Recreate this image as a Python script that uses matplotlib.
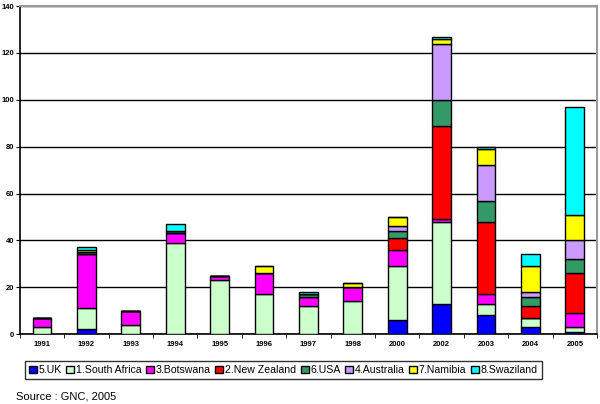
import numpy as np
import matplotlib.pyplot as plt

plt.rcParams['font.family'] = ['Liberation Sans', 'DejaVu Sans']

years = ['1991', '1992', '1993', '1994', '1995', '1996', '1997', '1998',
         '2000', '2002', '2003', '2004', '2005']

uk        = [0, 2, 0, 0, 0, 0, 0, 0, 6, 13, 8, 3, 1]
s_africa  = [3, 9, 4, 39, 23, 17, 12, 14, 23, 35, 5, 4, 2]
botswana  = [4, 23, 6, 4, 2, 9, 4, 6, 7, 1, 4, 0, 6]
n_zealand = [0, 0, 0, 0, 0, 0, 0, 0, 5, 40, 31, 5, 17]
usa       = [0, 1, 0, 1, 0, 0, 1, 0, 3, 11, 9, 4, 6]
australia = [0, 0, 0, 0, 0, 0, 0, 0, 2, 24, 15, 2, 8]
namibia   = [0, 1, 0, 0, 0, 3, 0, 2, 4, 2, 7, 11, 11]
swaziland = [0, 1, 0, 3, 0, 0, 1, 0, 0, 1, 1, 5, 46]

series = [uk, s_africa, botswana, n_zealand, usa, australia, namibia, swaziland]
labels = ['5.UK', '1.South Africa', '3.Botswana', '2.New Zealand', '6.USA',
          '4.Australia', '7.Namibia', '8.Swaziland']
colors = ['#0000FF', '#CCFFCC', '#FF00FF', '#FF0000', '#339966',
          '#CC99FF', '#FFFF00', '#00FFFF']

fig = plt.figure(figsize=(6, 4.04), dpi=100)
ax = fig.add_axes([0.033, 0.173, 0.962, 0.812])

x = np.arange(len(years))
bottom = np.zeros(len(years))
for vals, lab, col in zip(series, labels, colors):
    vals = np.array(vals, dtype=float)
    ax.bar(x, vals, bottom=bottom, width=0.42, color=col, edgecolor='black',
           linewidth=1.0, label=lab, zorder=3)
    bottom += vals

ax.set_xlim(-0.5, len(years) - 0.5)
ax.set_ylim(0, 140)
ax.set_yticks(range(0, 141, 20))
ax.yaxis.grid(True, color='black', linewidth=1.0, zorder=0)
ax.set_xticks(x)
ax.set_xticklabels(years, fontsize=5.5, fontweight='bold')
ax.tick_params(axis='x', which='major', length=0, pad=5)
ax.set_xticks(np.arange(-0.5, len(years), 1), minor=True)
ax.tick_params(axis='x', which='minor', length=3, direction='out')
ax.tick_params(axis='y', labelsize=5.5, length=3, direction='out', pad=1)
for t in ax.get_yticklabels():
    t.set_fontweight('bold')

ax.spines['top'].set_color('#999999')
ax.spines['right'].set_color('#999999')
ax.spines['top'].set_linewidth(1.5)
ax.spines['right'].set_linewidth(1.5)
ax.spines['left'].set_linewidth(1.2)
ax.spines['bottom'].set_linewidth(1.2)

leg = fig.legend(loc='center', bbox_to_anchor=(0.472, 0.084), ncol=8,
                 fontsize=7.6, frameon=True, fancybox=False, edgecolor='black',
                 handlelength=0.75, handleheight=0.75, handletextpad=0.15,
                 columnspacing=0.45, borderpad=0.4, borderaxespad=0)
leg.get_frame().set_linewidth(1.0)

fig.text(0.027, 0.01, 'Source : GNC, 2005', fontsize=8)

fig.savefig('out.png', dpi=100)
